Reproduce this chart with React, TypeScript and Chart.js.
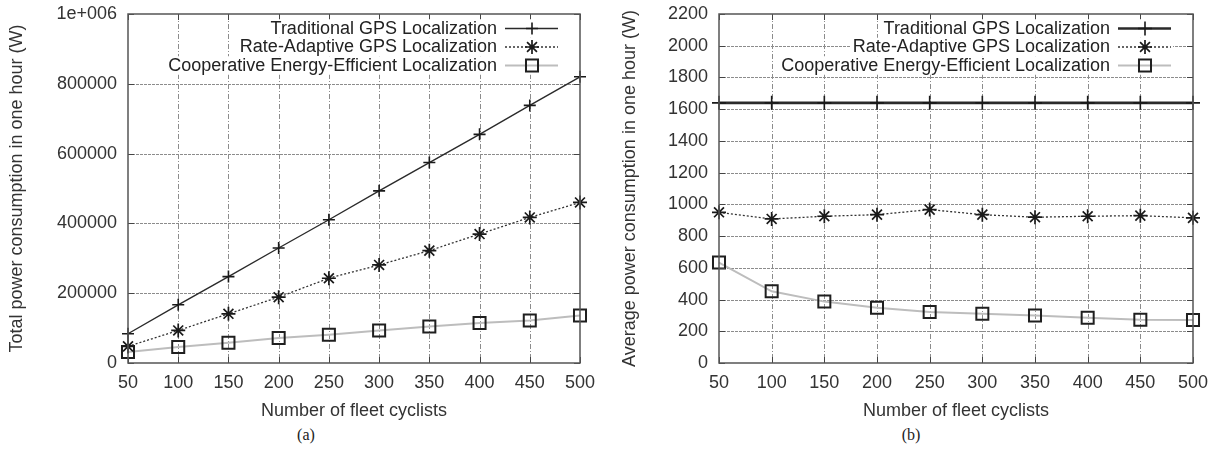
import React, { useEffect, useRef } from 'react';
import { Chart, registerables } from 'chart.js';

Chart.register(...registerables);

// ---------------- data ----------------
const fleetSizes = [50, 100, 150, 200, 250, 300, 350, 400, 450, 500];

const seriesNames = [
  'Traditional GPS Localization',
  'Rate-Adaptive GPS Localization',
  'Cooperative Energy-Efficient Localization',
];

// (a) total power consumption in one hour (W)
const totalTraditional = [83800, 166700, 247600, 329500, 410500, 493300, 574300, 655200, 738100, 820000];
const totalRateAdaptive = [47600, 93300, 141000, 188600, 242900, 281000, 321900, 369500, 417100, 460000];
const totalCooperative = [31400, 45700, 58100, 71400, 81000, 93300, 104800, 114300, 121900, 136200];

// (b) average power consumption in one hour (W)
const avgTraditional = [1640, 1640, 1640, 1640, 1640, 1640, 1640, 1640, 1640, 1640];
const avgRateAdaptive = [950, 908, 925, 935, 967, 935, 919, 925, 929, 915];
const avgCooperative = [633, 452, 387, 348, 321, 310, 300, 285, 273, 271];

const xTitle = 'Number of fleet cyclists';
const yTitleTotal = 'Total power consumption in one hour (W)';
const yTitleAvg = 'Average power consumption in one hour (W)';
const captions = ['(a)', '(b)'];
const totalTopTickLabel = '1e+006';

// ---------------- styling ----------------
const FONT = '"Liberation Sans", Arial, sans-serif';
const FS = 18;

function drawMarker(ctx: CanvasRenderingContext2D, style: string, x: number, y: number, r: number) {
  ctx.beginPath();
  if (style === 'cross' || style === 'star') {
    ctx.moveTo(x - r, y); ctx.lineTo(x + r, y);
    ctx.moveTo(x, y - r); ctx.lineTo(x, y + r);
    if (style === 'star') {
      const d = r * Math.SQRT1_2;
      ctx.moveTo(x - d, y - d); ctx.lineTo(x + d, y + d);
      ctx.moveTo(x - d, y + d); ctx.lineTo(x + d, y - d);
    }
    ctx.stroke();
  } else if (style === 'rect') {
    const s = r * Math.SQRT1_2;
    ctx.strokeRect(x - s, y - s, 2 * s, 2 * s);
  }
}

const paperPlugin = {
  id: 'paper',
  beforeDatasetsDraw(chart: any) {
    const { ctx, chartArea: a, scales } = chart;
    const xs = scales.x, ys = scales.y;
    ctx.save();
    ctx.strokeStyle = '#8c8c8c';
    ctx.lineWidth = 1;
    ctx.setLineDash([3, 1]);
    ys.ticks.forEach((t: any) => {
      const py = Math.round(ys.getPixelForValue(t.value)) + 0.5;
      if (py <= a.top + 1 || py >= a.bottom - 1) return;
      ctx.beginPath(); ctx.moveTo(a.left, py); ctx.lineTo(a.right, py); ctx.stroke();
    });
    ctx.setLineDash([5, 2, 1, 2]);
    xs.ticks.forEach((t: any) => {
      const px = Math.round(xs.getPixelForValue(t.value)) + 0.5;
      if (px <= a.left + 1 || px >= a.right - 1) return;
      ctx.beginPath(); ctx.moveTo(px, a.top); ctx.lineTo(px, a.bottom); ctx.stroke();
    });
    ctx.restore();
  },
  afterDatasetsDraw(chart: any) {
    const { ctx, chartArea: a, scales } = chart;
    const xs = scales.x, ys = scales.y;
    ctx.save();
    // inward tick marks
    ctx.strokeStyle = '#444';
    ctx.lineWidth = 1;
    ctx.setLineDash([]);
    xs.ticks.forEach((t: any) => {
      const px = Math.round(xs.getPixelForValue(t.value)) + 0.5;
      ctx.beginPath();
      ctx.moveTo(px, a.bottom); ctx.lineTo(px, a.bottom - 6);
      ctx.moveTo(px, a.top); ctx.lineTo(px, a.top + 6);
      ctx.stroke();
    });
    ys.ticks.forEach((t: any) => {
      const py = Math.round(ys.getPixelForValue(t.value)) + 0.5;
      ctx.beginPath();
      ctx.moveTo(a.left, py); ctx.lineTo(a.left + 6, py);
      ctx.moveTo(a.right, py); ctx.lineTo(a.right - 6, py);
      ctx.stroke();
    });
    // legend (key) in top-right corner
    ctx.font = `${FS}px ${FONT}`;
    ctx.textAlign = 'right';
    ctx.textBaseline = 'middle';
    const textRight = a.right - 83;
    const sampleL = a.right - 75;
    const sampleR = a.right - 22;
    const markX = a.right - 48;
    chart.data.datasets.forEach((ds: any, i: number) => {
      const yRow = a.top + 14.5 + i * 18.5;
      const w = ctx.measureText(ds.label).width;
      ctx.fillStyle = '#ffffff';
      ctx.fillRect(textRight - w - 2, yRow - 9.25, sampleR - textRight + w + 4, 18.5);
      ctx.fillStyle = '#222';
      ctx.fillText(ds.label, textRight, yRow + 0.5);
      ctx.strokeStyle = ds.borderColor;
      ctx.lineWidth = ds.borderWidth;
      ctx.setLineDash(ds.borderDash || []);
      ctx.beginPath(); ctx.moveTo(sampleL, yRow); ctx.lineTo(sampleR, yRow); ctx.stroke();
      ctx.setLineDash([]);
      ctx.strokeStyle = ds.pointBorderColor;
      ctx.lineWidth = ds.pointBorderWidth;
      drawMarker(ctx, ds.pointStyle, markX, yRow, ds.pointRadius);
    });
    // plot border
    ctx.strokeStyle = '#555';
    ctx.lineWidth = 1.5;
    ctx.setLineDash([]);
    ctx.strokeRect(a.left, a.top, a.right - a.left, a.bottom - a.top);
    ctx.restore();
  },
};

function makeDatasets(trad: number[], rate: number[], coop: number[], tradWidth: number, tradRadius: number) {
  const pts = (v: number[]) => fleetSizes.map((x, i) => ({ x, y: v[i] }));
  return [
    {
      label: seriesNames[0], data: pts(trad),
      borderColor: '#2a2a2a', borderWidth: tradWidth,
      pointStyle: 'cross', pointRadius: tradRadius, pointBorderColor: '#1a1a1a', pointBorderWidth: 1.6,
      pointBackgroundColor: 'transparent', clip: false,
    },
    {
      label: seriesNames[1], data: pts(rate),
      borderColor: '#333', borderWidth: 1.3, borderDash: [2, 2],
      pointStyle: 'star', pointRadius: 7, pointBorderColor: '#1a1a1a', pointBorderWidth: 1.7,
      pointBackgroundColor: 'transparent', clip: false,
    },
    {
      label: seriesNames[2], data: pts(coop),
      borderColor: '#bdbdbd', borderWidth: 2,
      pointStyle: 'rect', pointRadius: 8.5, pointBorderColor: '#1f1f1f', pointBorderWidth: 2,
      pointBackgroundColor: 'transparent', clip: false,
    },
  ];
}

type PanelProps = {
  left: number;
  width: number;
  yWidth: number;
  padRight: number;
  yTitle: string;
  yTitlePad: number;
  yMax: number;
  yStep: number;
  fmt: (v: number) => string;
  datasets: any[];
  caption: string;
  captionX: number;
};

function Panel(p: PanelProps) {
  const ref = useRef<HTMLCanvasElement>(null);
  useEffect(() => {
    const tickFont = { family: FONT, size: FS };
    const chart = new Chart(ref.current as HTMLCanvasElement, {
      type: 'line',
      data: { datasets: p.datasets },
      options: {
        animation: false,
        responsive: true,
        maintainAspectRatio: false,
        layout: { padding: { top: 14, right: p.padRight, left: 0, bottom: 0 } },
        plugins: { legend: { display: false }, tooltip: { enabled: false } },
        elements: { line: { tension: 0 } },
        scales: {
          x: {
            type: 'linear', min: 50, max: 500,
            ticks: { stepSize: 50, font: tickFont, color: '#333', padding: 9, maxRotation: 0 },
            grid: { display: false, drawTicks: false },
            border: { display: false },
            title: { display: true, text: xTitle, font: tickFont, color: '#333', padding: { top: 0, bottom: 3 } },
            afterFit: (s: any) => { s.height = 62; s.paddingLeft = 0; s.paddingRight = 0; },
          },
          y: {
            type: 'linear', min: 0, max: p.yMax,
            ticks: { stepSize: p.yStep, font: tickFont, color: '#333', padding: 11, callback: (v: any) => p.fmt(Number(v)) },
            grid: { display: false, drawTicks: false },
            border: { display: false },
            title: { display: true, text: p.yTitle, font: tickFont, color: '#333', padding: { top: p.yTitlePad, bottom: 0 } },
            afterFit: (s: any) => { s.width = p.yWidth; s.paddingTop = 0; s.paddingBottom = 0; },
          },
        },
      } as any,
      plugins: [paperPlugin as any],
    });
    return () => chart.destroy();
  }, []);
  return (
    <div style={{ position: 'absolute', left: p.left, top: 0, width: p.width, height: 452 }}>
      <div style={{ position: 'absolute', left: 0, top: 0, width: p.width, height: 425 }}>
        <canvas ref={ref} />
      </div>
      <div style={{ position: 'absolute', left: p.captionX - 30, width: 60, top: 425, textAlign: 'center', font: '16px "Liberation Serif", serif', lineHeight: '20px', color: '#222' }}>
        {p.caption}
      </div>
    </div>
  );
}

export default function App() {
  return (
    <div style={{ position: 'absolute', left: 0, top: 0, width: 1217, height: 452, background: '#fff', overflow: 'hidden' }}>
      <Panel
        left={0} width={605} yWidth={128} padRight={25}
        yTitle={yTitleTotal} yTitlePad={6.2} yMax={1000000} yStep={200000}
        fmt={(v) => (v === 1000000 ? totalTopTickLabel : String(v))}
        datasets={makeDatasets(totalTraditional, totalRateAdaptive, totalCooperative, 1.4, 6)}
        caption={captions[0]} captionX={306}
      />
      <Panel
        left={605} width={612} yWidth={114} padRight={24}
        yTitle={yTitleAvg} yTitlePad={14.2} yMax={2200} yStep={200}
        fmt={(v) => String(v)}
        datasets={makeDatasets(avgTraditional, avgRateAdaptive, avgCooperative, 2.6, 7)}
        caption={captions[1]} captionX={306}
      />
    </div>
  );
}
